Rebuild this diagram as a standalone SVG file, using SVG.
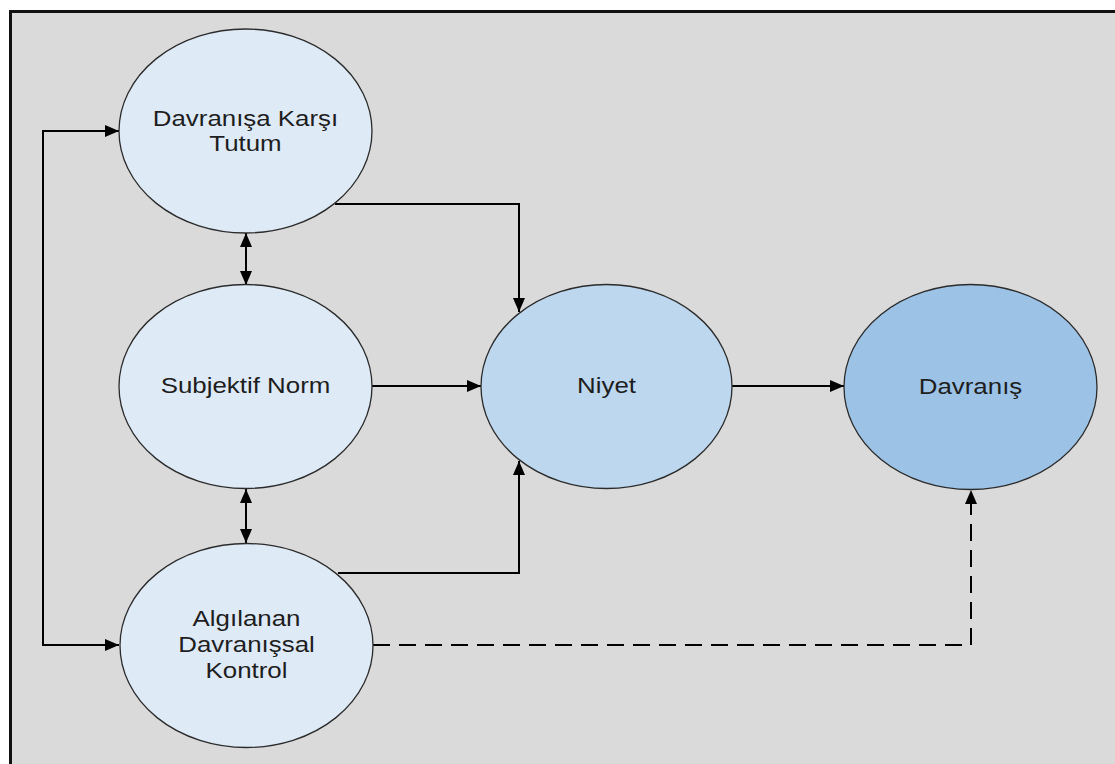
<svg xmlns="http://www.w3.org/2000/svg" width="1115" height="764" viewBox="0 0 1115 764">
<defs>
<marker id="ah" viewBox="0 0 14 12" refX="14" refY="6" markerWidth="14" markerHeight="12" markerUnits="userSpaceOnUse" orient="auto-start-reverse">
<path d="M0,0 L14,6 L0,12 Z" fill="#000"/>
</marker>
<style>
.node{stroke:#2b2b2b;stroke-width:1.3}
.n1{fill:#deeaf6}
.n2{fill:#bdd7ee}
.n3{fill:#9cc2e5}
.lbl{font-family:"Liberation Sans",Arial,sans-serif;font-size:22.5px;fill:#1e1e1e;text-anchor:middle}
.con{fill:none;stroke:#000;stroke-width:2}
.dash{stroke-dasharray:17,9}
</style>
</defs>
<rect x="0" y="0" width="1115" height="764" fill="#ffffff"/>
<rect x="10.5" y="11.5" width="1200" height="800" fill="#dadada" stroke="#111" stroke-width="3"/>
<g id="connectors">
<path class="con" d="M119,131 L43,131 L43,645 L119,645" marker-start="url(#ah)" marker-end="url(#ah)"/>
<path class="con" d="M335,204 L519,204 L519,312" marker-end="url(#ah)"/>
<path class="con" d="M372,386 L481,386" marker-end="url(#ah)"/>
<path class="con" d="M338,573 L519,573 L519,461" marker-end="url(#ah)"/>
<path class="con" d="M246,233 L246,285" marker-start="url(#ah)" marker-end="url(#ah)"/>
<path class="con" d="M246,489 L246,543" marker-start="url(#ah)" marker-end="url(#ah)"/>
<path class="con" d="M732,386 L844,386" marker-end="url(#ah)"/>
<path class="con dash" d="M373,645 L971,645 L971,490" marker-end="url(#ah)"/>
</g>
<g id="tutum">
<ellipse class="node n1" cx="245.5" cy="131" rx="126.5" ry="102"/>
<g transform="translate(245.5,0) scale(1.15,1)"><text class="lbl" x="0" y="126">Davranışa Karşı</text><text class="lbl" x="0" y="151">Tutum</text></g>
</g>
<g id="norm">
<ellipse class="node n1" cx="245.5" cy="386.5" rx="126.5" ry="102"/>
<g transform="translate(245.5,0) scale(1.15,1)"><text class="lbl" x="0" y="393">Subjektif Norm</text></g>
</g>
<g id="kontrol">
<ellipse class="node n1" cx="246.5" cy="645.5" rx="126.5" ry="102"/>
<g transform="translate(246.5,0) scale(1.15,1)"><text class="lbl" x="0" y="626">Algılanan</text><text class="lbl" x="0" y="652">Davranışsal</text><text class="lbl" x="0" y="678">Kontrol</text></g>
</g>
<g id="niyet">
<ellipse class="node n2" cx="606.5" cy="386.5" rx="125.5" ry="102"/>
<g transform="translate(606.5,0) scale(1.15,1)"><text class="lbl" x="0" y="393">Niyet</text></g>
</g>
<g id="davranis">
<ellipse class="node n3" cx="970.5" cy="387" rx="126.5" ry="102.5"/>
<g transform="translate(970.5,0) scale(1.15,1)"><text class="lbl" x="0" y="394">Davranış</text></g>
</g>
</svg>
